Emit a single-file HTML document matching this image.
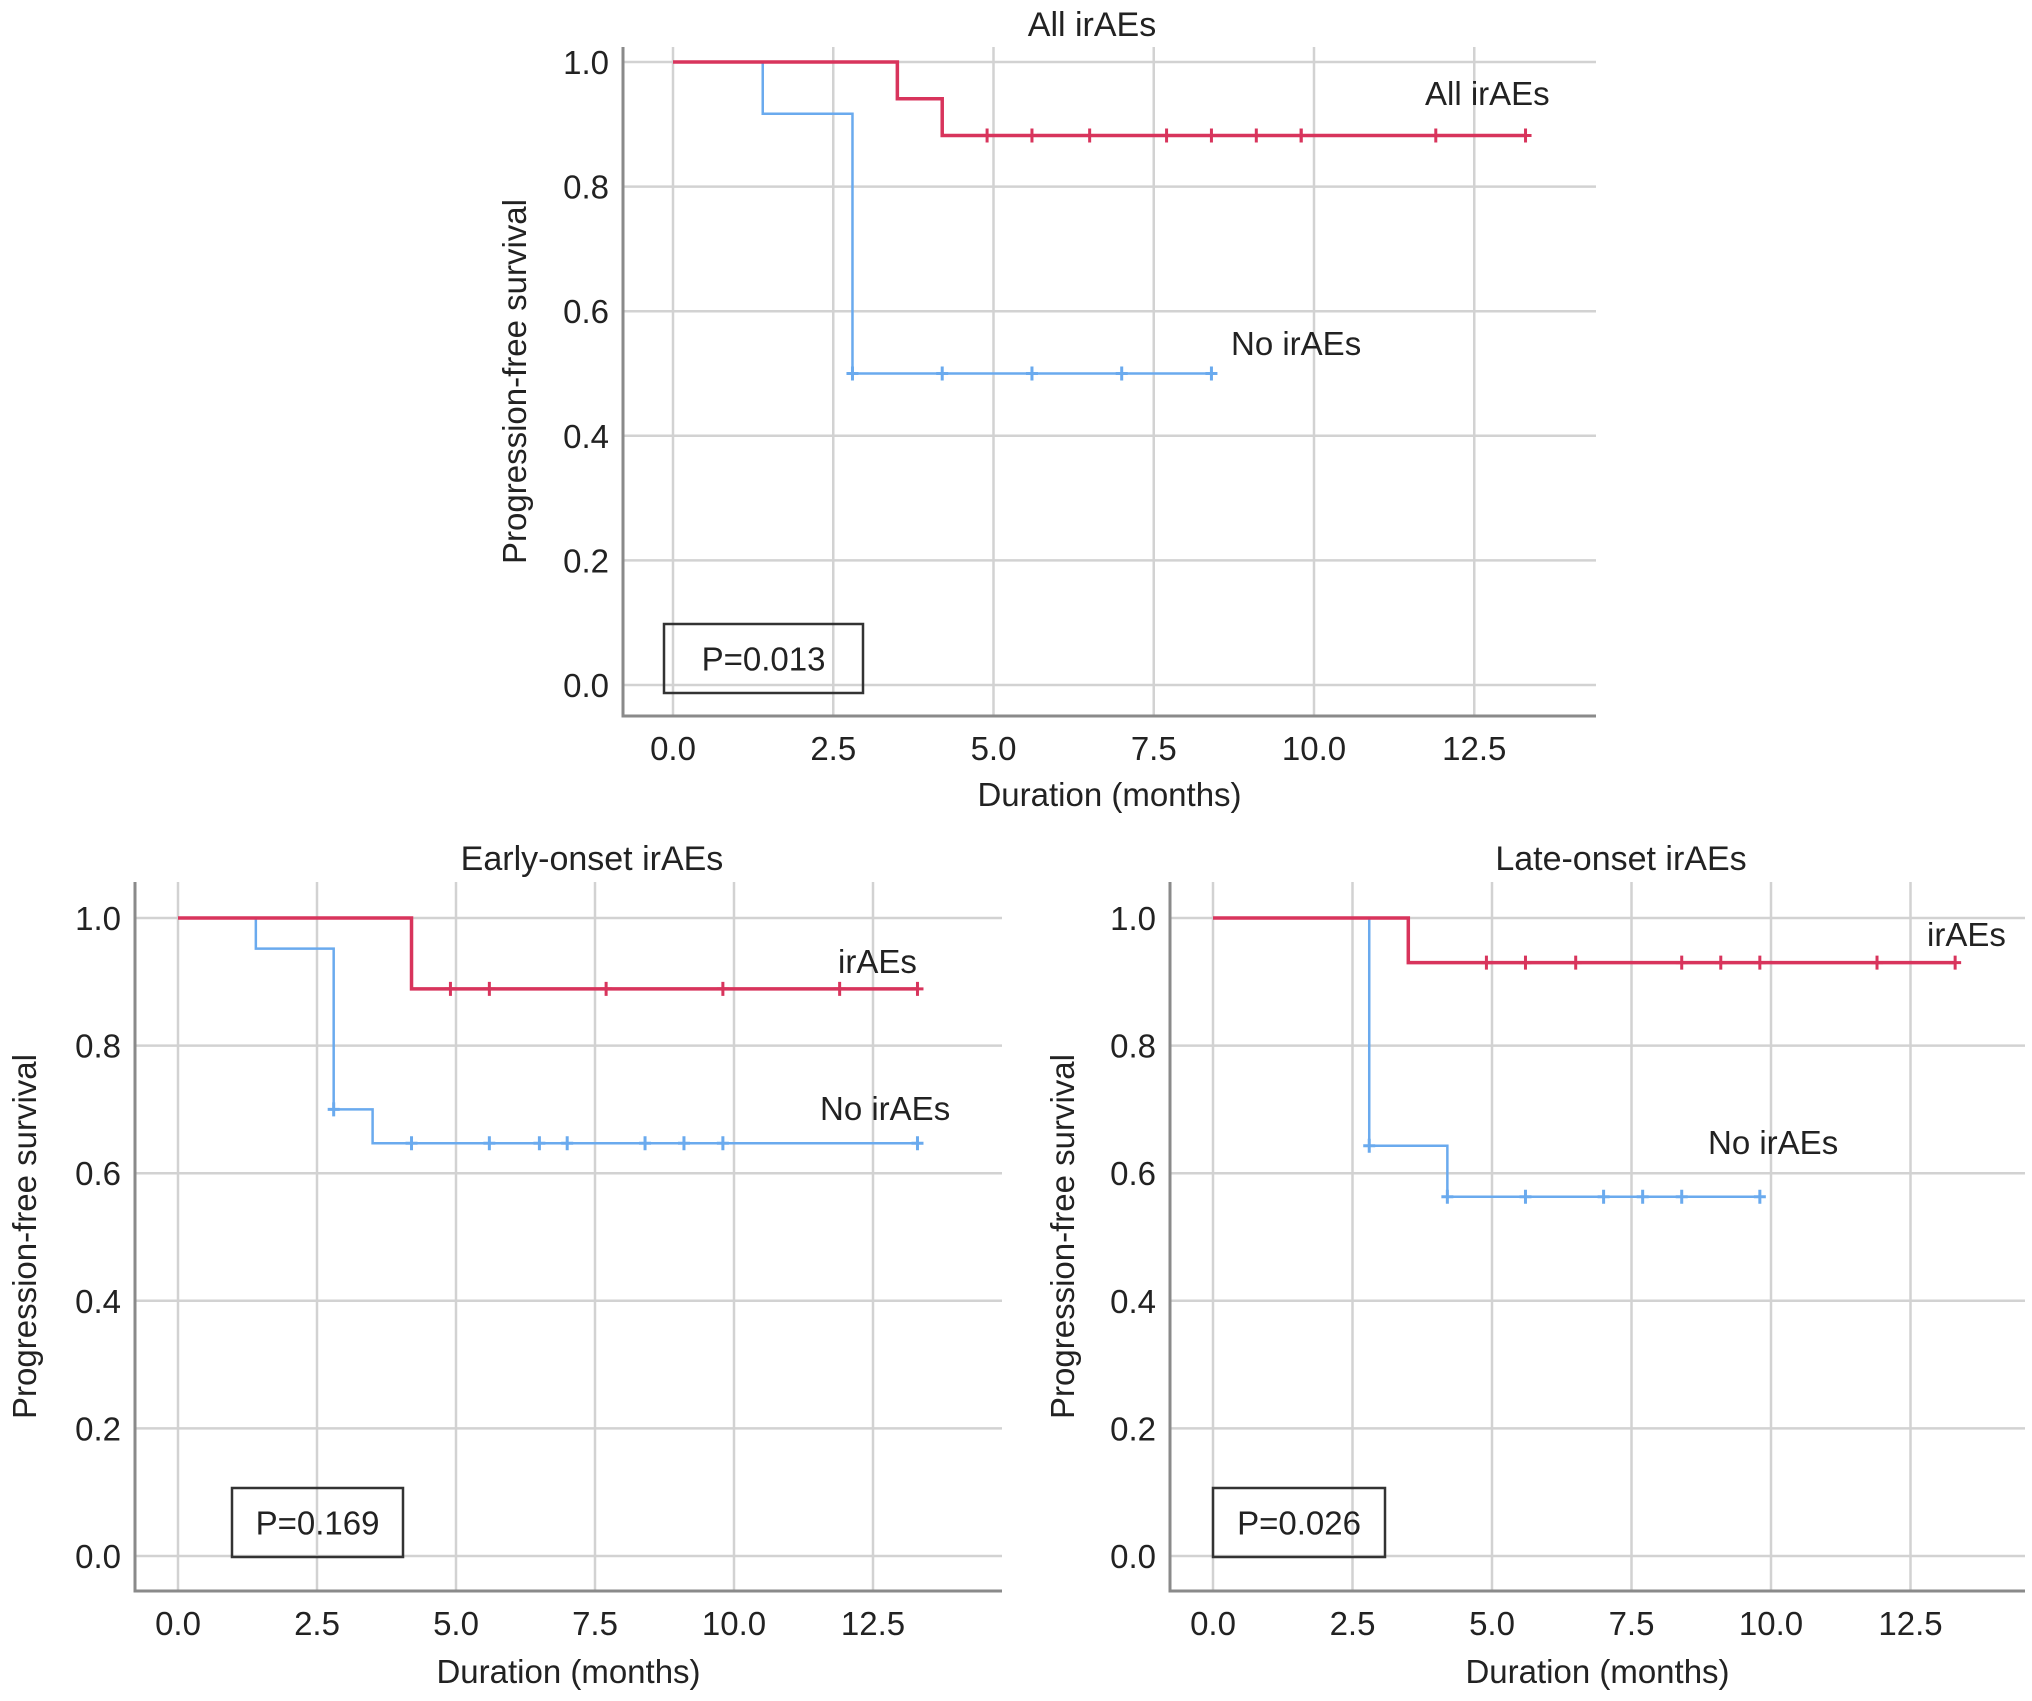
<!DOCTYPE html>
<html><head><meta charset="utf-8"><style>
html,body{margin:0;padding:0;background:#fff;}
svg{display:block;}
text{font-family:"Liberation Sans",Arial,sans-serif;fill:#222;}
</style></head><body>
<svg id="c" width="2032" height="1701" viewBox="0 0 2032 1701" xmlns="http://www.w3.org/2000/svg"></svg>
<script>
// ---- data ----
const xTicks = [0, 2.5, 5, 7.5, 10, 12.5];
const xTickLabels = ["0.0","2.5","5.0","7.5","10.0","12.5"];
const yTicks = [0, 0.2, 0.4, 0.6, 0.8, 1.0];
const yTickLabels = ["0.0","0.2","0.4","0.6","0.8","1.0"];

const allRedTimes = [0, 3.5, 4.2];
const allRedSurv = [1.0, 0.941, 0.882];
const allRedEnd = 13.3;
const allRedCensor = [4.9, 5.6, 6.5, 7.7, 8.4, 9.1, 9.8, 9.8, 11.9, 13.3];
const allBlueTimes = [0, 1.4, 2.8];
const allBlueSurv = [1.0, 0.917, 0.5];
const allBlueEnd = 8.4;
const allBlueCensor = [2.8, 4.2, 5.6, 7.0, 8.4];

const earlyRedTimes = [0, 4.2];
const earlyRedSurv = [1.0, 0.889];
const earlyRedEnd = 13.3;
const earlyRedCensor = [4.9, 5.6, 7.7, 9.8, 11.9, 13.3];
const earlyBlueTimes = [0, 1.4, 2.8, 3.5];
const earlyBlueSurv = [1.0, 0.952, 0.7, 0.647];
const earlyBlueEnd = 13.3;
const earlyBlueCensor = [2.8, 4.2, 5.6, 6.5, 7.0, 8.4, 9.1, 9.8, 13.3];

const lateRedTimes = [0, 3.5];
const lateRedSurv = [1.0, 0.93];
const lateRedEnd = 13.3;
const lateRedCensor = [4.9, 5.6, 6.5, 8.4, 9.1, 9.8, 11.9, 13.3];
const lateBlueTimes = [0, 2.8, 4.2];
const lateBlueSurv = [1.0, 0.643, 0.563];
const lateBlueEnd = 9.8;
const lateBlueCensor = [2.8, 4.2, 5.6, 7.0, 7.7, 8.4, 9.8];

const RED = "#d8345c", BLUE = "#6aaaee";
const NS = "http://www.w3.org/2000/svg";
const svg = document.getElementById("c");
function mk(tag, attrs, parent, txt){
  const e = document.createElementNS(NS, tag);
  for (const k in attrs) e.setAttribute(k, attrs[k]);
  if (txt !== undefined) e.textContent = txt;
  (parent || svg).appendChild(e);
  return e;
}
function stepSurv(times, surv, t){
  let s = surv[0];
  for (let i = 0; i < times.length; i++) if (times[i] <= t) s = surv[i];
  return s;
}

function panel(cfg){
  const g = mk("g", {});
  
  
  const xs = v => cfg.x0 + v * cfg.xUnit;
  const ys = v => cfg.y0 - v * (cfg.y0 - cfg.y1);
  yTicks.forEach(v => {
    const l = mk("line", {x1: cfg.axL, x2: cfg.axR, y1: ys(v), y2: ys(v), stroke: "#d2d2d2", "stroke-width": 2.5}, g);
    
    
  });
  xTicks.forEach(v => {
    const l = mk("line", {x1: xs(v), x2: xs(v), y1: cfg.axT, y2: cfg.axB, stroke: "#d2d2d2", "stroke-width": 2.5}, g);
    
    
  });
  const ax = mk("path", {d: `M${cfg.axL},${cfg.axT} V${cfg.axB} H${cfg.axR}`, fill: "none", stroke: "#8a8a8a", "stroke-width": 3}, g);
  
  
  yTicks.forEach((v, i) => {
    const t = mk("text", {x: cfg.axL - 14, y: ys(v) + 12, "text-anchor": "end", "font-size": 33}, g, yTickLabels[i]);
    
    
  });
  xTicks.forEach((v, i) => {
    const t = mk("text", {x: xs(v), y: cfg.axB + cfg.tickDy, "text-anchor": "middle", "font-size": 33}, g, xTickLabels[i]);
    
    
  });
  const xt = mk("text", {x: (cfg.axL + cfg.axR)/2, y: cfg.axB + cfg.titleDy, "text-anchor": "middle", "font-size": 33}, g, "Duration (months)");
  
  
  const yc = (cfg.axT + cfg.axB)/2;
  const yt = mk("text", {x: cfg.yTitleX, y: yc, "text-anchor": "middle", "font-size": 33, transform: `rotate(-90 ${cfg.yTitleX} ${yc})`}, g, "Progression-free survival");
  
  
  const tt = mk("text", {x: cfg.titleX, y: cfg.titleY, "text-anchor": "middle", "font-size": 34}, g, cfg.title);
  
  
  cfg.series.forEach(s => {
    let d = `M${xs(s.times[0])},${ys(s.surv[0])}`;
    for (let i = 1; i < s.times.length; i++) {
      d += ` H${xs(s.times[i])} V${ys(s.surv[i])}`;
    }
    d += ` H${xs(s.end)}`;
    const p = mk("path", {d: d, fill: "none", stroke: s.color, "stroke-width": s.color === RED ? 3.5 : 2.5}, g);
    
    
    s.censor.forEach(c => {
      const cx = xs(c), cy = ys(stepSurv(s.times, s.surv, c));
      const m = mk("path", {d: `M${cx-6},${cy} H${cx+6} M${cx},${cy-7} V${cy+7}`, stroke: s.color, "stroke-width": 3, fill: "none"}, g);
      
      
    });
    const lb = mk("text", {x: s.lx, y: s.ly, "font-size": 33}, g, s.label);
    
    
  });
  const b = cfg.box;
  const r = mk("rect", {x: b[0], y: b[1], width: b[2]-b[0], height: b[3]-b[1], fill: "none", stroke: "#333", "stroke-width": 2.5}, g);
  
  
  const pt = mk("text", {x: (b[0]+b[2])/2, y: (b[1]+b[3])/2 + 12, "text-anchor": "middle", "font-size": 33}, g, cfg.p);
  
  
}

panel({name: "all-iraes-panel", title: "All irAEs", titleX: 1092, titleY: 36,
  x0: 673, xUnit: 64.1, y0: 685, y1: 62, axL: 623, axR: 1596, axT: 47, axB: 716, yTitleX: 526,
  tickDy: 44, titleDy: 90,
  box: [664, 624, 863, 693], p: "P=0.013",
  series: [
    {name: "no-iraes", times: allBlueTimes, surv: allBlueSurv, end: allBlueEnd, censor: allBlueCensor, color: BLUE, label: "No irAEs", lx: 1231, ly: 355},
    {name: "all-iraes", times: allRedTimes, surv: allRedSurv, end: allRedEnd, censor: allRedCensor, color: RED, label: "All irAEs", lx: 1425, ly: 105}
  ]});
panel({name: "early-onset-panel", title: "Early-onset irAEs", titleX: 592, titleY: 870,
  x0: 178, xUnit: 55.6, y0: 1556, y1: 918, axL: 135, axR: 1002, axT: 882, axB: 1591, yTitleX: 36,
  tickDy: 44, titleDy: 92,
  box: [232, 1488, 403, 1557], p: "P=0.169",
  series: [
    {name: "early-no-iraes", times: earlyBlueTimes, surv: earlyBlueSurv, end: earlyBlueEnd, censor: earlyBlueCensor, color: BLUE, label: "No irAEs", lx: 820, ly: 1120},
    {name: "early-iraes", times: earlyRedTimes, surv: earlyRedSurv, end: earlyRedEnd, censor: earlyRedCensor, color: RED, label: "irAEs", lx: 838, ly: 973}
  ]});
panel({name: "late-onset-panel", title: "Late-onset irAEs", titleX: 1621, titleY: 870,
  x0: 1213, xUnit: 55.8, y0: 1556, y1: 918, axL: 1170, axR: 2025, axT: 882, axB: 1591, yTitleX: 1074,
  tickDy: 44, titleDy: 92,
  box: [1213, 1488, 1385, 1557], p: "P=0.026",
  series: [
    {name: "late-no-iraes", times: lateBlueTimes, surv: lateBlueSurv, end: lateBlueEnd, censor: lateBlueCensor, color: BLUE, label: "No irAEs", lx: 1708, ly: 1154},
    {name: "late-iraes", times: lateRedTimes, surv: lateRedSurv, end: lateRedEnd, censor: lateRedCensor, color: RED, label: "irAEs", lx: 1927, ly: 946}
  ]});
</script>
</body></html>
